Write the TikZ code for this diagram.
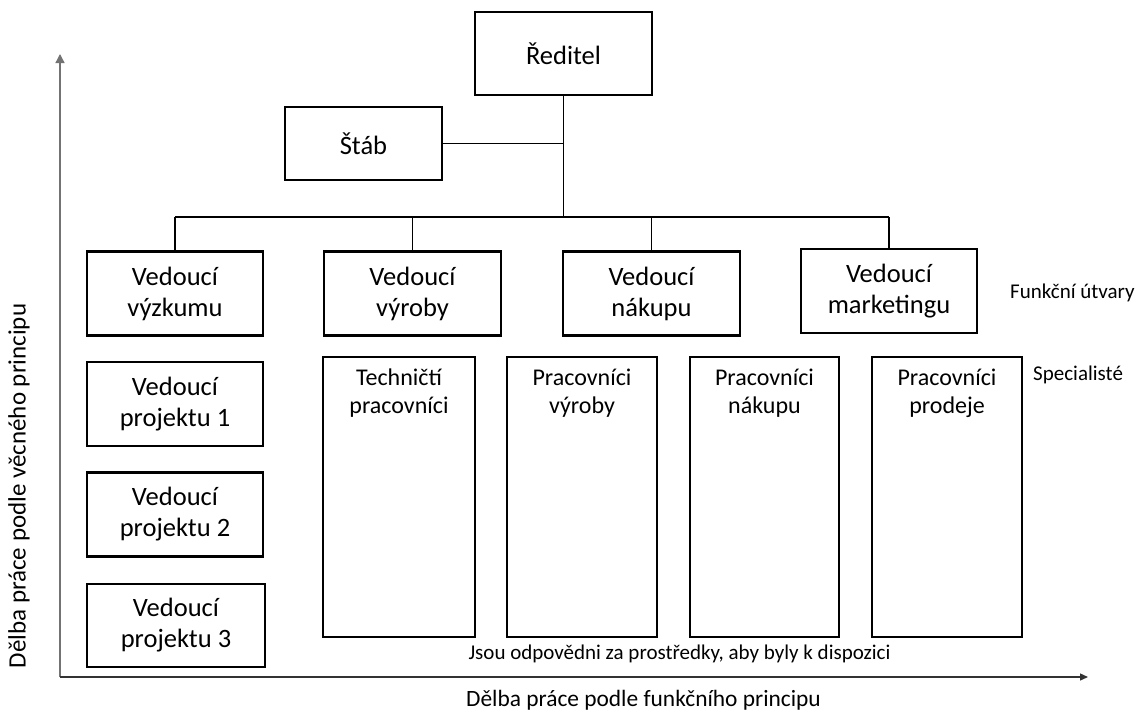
\documentclass[tikz,border=0pt]{standalone}
\usepackage{fontspec}
\setmainfont{Carlito}
\usetikzlibrary{arrows.meta}

\tikzset{
  headbox/.style={draw, line width=2.8pt, align=center, inner sep=0pt,
    minimum width=176pt, minimum height=84pt,
    font=\fontsize{26.5}{31}\selectfont},
  staffbox/.style={draw, line width=1.3pt, inner sep=0pt,
    minimum width=150pt, minimum height=280pt},
  stafftext/.style={align=center, inner sep=0pt,
    font=\fontsize{24}{28}\selectfont},
  conn/.style={line width=1.7pt},
  sidenote/.style={inner sep=0pt, font=\fontsize{21}{25}\selectfont},
  axislabel/.style={inner sep=0pt, font=\fontsize{23.4}{28}\selectfont},
  axis/.style={line width=1.3pt}
}

\begin{document}
\begin{tikzpicture}[x=1pt, y=-1pt]
\useasboundingbox (0,0) rectangle (1138,713);

% top management
\node[headbox, minimum width=177pt, minimum height=83pt] (dir) at (563.5,53.5) {Ředitel};
\node[headbox, minimum width=157pt, minimum height=73pt] (stab) at (363.5,143.5) {Štáb};

% functional heads
\node[headbox] (vyzk) at (175,293.5) {Vedoucí\\výzkumu};
\node[headbox, minimum width=177pt] (vyr) at (412.5,293.5) {Vedoucí\\výroby};
\node[headbox, minimum width=177pt] (nak) at (651.5,293.5) {Vedoucí\\nákupu};
\node[headbox, minimum width=176pt] (mark) at (889,291) {Vedoucí\\marketingu};

% project heads
\node[headbox] (proj1) at (175,404) {Vedoucí\\projektu 1};
\node[headbox] (proj2) at (175,514.5) {Vedoucí\\projektu 2};
\node[headbox, minimum width=178pt, minimum height=83pt] (proj3) at (176,625.5) {Vedoucí\\projektu 3};

% specialist columns
\node[staffbox, minimum width=152pt] (tech) at (399,497) {};
\node[staffbox] (pvyr) at (582,497) {};
\node[staffbox, minimum width=149pt] (pnak) at (764.5,497) {};
\node[staffbox] (pprod) at (947,497) {};
\foreach \b/\t in {tech/{Techničtí\\pracovníci}, pvyr/{Pracovníci\\výroby},
                   pnak/{Pracovníci\\nákupu}, pprod/{Pracovníci\\prodeje}}
  \node[stafftext, anchor=north] (\b-t) at ([yshift=-12pt]\b.north) {\t};

% reporting lines
\coordinate (hub) at (dir.south |- 0,217);
\draw[conn] (dir.south) -- (hub);
\draw[conn] (stab.east) -- (stab.east -| dir.south);
\draw[conn] (vyzk.north |- hub) -- (mark.north |- hub);
\foreach \n in {vyzk, vyr, nak, mark}
  \draw[conn] (\n.north |- hub) -- (\n.north);

% axes
\coordinate (origin) at (60,677);
\coordinate (ytip) at (60,54);
\coordinate (xtip) at (1088,677);
\draw[axis, draw=gray!90!black, -{Triangle[length=9pt, width=9pt]}] (origin) -- (ytip);
\draw[axis, draw=black!80, -{Triangle[length=8pt, width=7pt]}] (origin) -- (xtip);

% side and axis labels
\node[sidenote, anchor=west] (funk) at (1010,293) {Funkční útvary};
\node[sidenote, anchor=west] (spec) at (1033,375) {Specialisté};
\node[sidenote] (resp) at (679.5,654) {Jsou odpovědni za prostředky, aby byly k dispozici};
\node[axislabel] (xlab) at (643.5,700) {Dělba práce podle funkčního principu};
\node[axislabel, font=\fontsize{25}{30}\selectfont, rotate=90] (ylab) at (19,486) {Dělba práce podle věcného principu};
\end{tikzpicture}
\end{document}
